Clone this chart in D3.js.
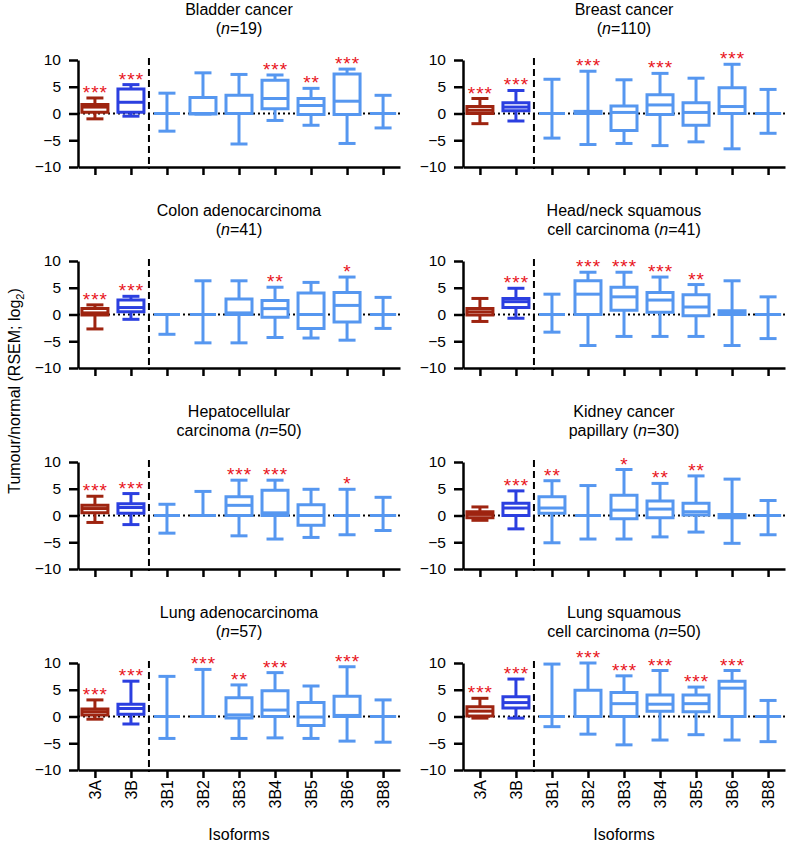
<!DOCTYPE html>
<meta charset="utf-8">
<style>
  body { margin: 0; background: #fff; }
  svg { font-family: "Liberation Sans", Arial, sans-serif; }
  .axis path, .axis line { stroke: #000; stroke-width: 2.5; }
  .axis text { font-size: 15.5px; fill: #000; }
</style>
<body>
<div id="chart"></div>
<script src="https://d3js.org/d3.v7.min.js"></script>
<script>

// categories on the x axis
var isoforms = ["3A", "3B", "3B1", "3B2", "3B3", "3B4", "3B5", "3B6", "3B8"];

// panel titles: first line, text before n, n value
var titleLine1 = ["Bladder cancer", "Breast cancer", "Colon adenocarcinoma", "Head/neck squamous",
                  "Hepatocellular", "Kidney cancer", "Lung adenocarcinoma", "Lung squamous"];
var titleLine2 = ["", "", "", "cell carcinoma ", "carcinoma ", "papillary ", "", "cell carcinoma "];
var sampleN = [19, 110, 41, 41, 50, 30, 57, 50];

// five-number summaries per isoform: [min, q1, median, q3, max]
var bladder = [
  [-1.0, 0.25, 1.2, 1.7, 2.9], [-0.5, 0.25, 2.1, 4.6, 5.4], [-3.3, 0, 0, 0, 3.8],
  [-0.1, -0.1, 0, 3.0, 7.6], [-5.7, 0, 0, 3.4, 7.3], [-1.3, 0.9, 2.8, 6.2, 7.2],
  [-2.2, -0.2, 1.5, 2.8, 4.7], [-5.6, -0.2, 2.3, 7.4, 8.3], [-2.7, 0, 0, 0, 3.4]];
var breast = [
  [-1.9, 0, 0.6, 1.3, 2.8], [-1.4, 0.5, 1.2, 2.0, 4.3], [-4.6, 0, 0, 0, 6.4],
  [-5.8, 0, 0.2, 0.4, 7.9], [-5.6, -3.2, 0.2, 1.4, 6.3], [-6.0, -0.2, 1.6, 3.5, 7.5],
  [-5.3, -2.2, 0.2, 2.0, 6.6], [-6.6, 0, 1.3, 4.8, 9.2], [-3.7, 0, 0, 0, 4.5]];
var colon = [
  [-2.7, -0.1, 0.3, 1.1, 1.8], [-0.9, 0.5, 1.3, 2.7, 3.4], [-3.7, 0, 0, 0, 0],
  [-5.3, 0, 0, 0, 6.3], [-5.3, 0, 0.3, 2.9, 6.3], [-4.3, -0.5, 1.1, 2.6, 5.1],
  [-4.4, -2.6, 0, 4.0, 6.0], [-4.8, -1.4, 1.7, 4.1, 7.0], [-2.6, 0, 0, 0, 3.2]];
var headNeck = [
  [-1.3, -0.1, 0.5, 1.1, 3.0], [-0.7, 1.3, 2.4, 3.0, 4.9], [-3.3, 0, 0, 0, 3.8],
  [-5.8, 0, 3.8, 6.3, 7.9], [-4.1, 0.8, 3.3, 5.1, 7.9], [-4.1, 0.4, 2.7, 4.1, 7.0],
  [-4.1, -0.25, 1.4, 3.7, 5.6], [-5.8, 0, 0.3, 0.7, 6.3], [-4.5, 0, 0, 0, 3.3]];
var hepato = [
  [-1.3, 0.5, 1.3, 1.9, 3.6], [-1.7, 0.4, 1.5, 2.2, 4.1], [-3.3, 0, 0, 0, 2.1],
  [0, 0, 0, 0, 4.5], [-3.8, 0, 1.9, 3.5, 6.6], [-4.4, 0, 0.5, 4.7, 6.6],
  [-4.1, -1.8, 0, 2.0, 4.9], [-3.6, 0, 0, 0, 4.9], [-2.8, 0, 0, 0, 3.4]];
var kidney = [
  [-0.9, -0.4, 0.2, 0.7, 1.6], [-2.5, 0, 1.4, 2.3, 4.6], [-5.1, 0.4, 1.4, 3.5, 6.5],
  [-4.4, 0, 0, 0, 5.6], [-4.4, -0.6, 1.0, 3.8, 8.6], [-4.0, -0.4, 1.2, 2.7, 6.0],
  [-3.1, 0.1, 0.7, 2.3, 7.4], [-5.2, -0.4, -0.1, 0.2, 6.8], [-3.6, 0, 0, 0, 2.8]];
var lungAdeno = [
  [-0.5, 0.3, 0.9, 1.4, 3.1], [-1.4, 0.4, 1.5, 2.3, 6.6], [-4.1, 0, 0, 0, 7.5],
  [0, 0, 0, 0, 8.8], [-4.1, -0.3, 0.3, 3.5, 5.9], [-4.0, 0, 1.2, 4.8, 8.2],
  [-4.1, -1.7, -0.1, 2.6, 5.7], [-4.6, 0, 0.2, 3.8, 9.3], [-4.8, 0, 0, 0, 3.1]];
var lungSquam = [
  [-0.3, 0.1, 1.0, 1.8, 3.4], [-0.3, 1.6, 2.6, 3.7, 7.0], [-1.9, 0, 0, 0, 9.8],
  [-3.3, 0, 0, 4.9, 10.0], [-5.3, 0, 2.4, 4.5, 7.6], [-4.4, 1.0, 2.3, 4.0, 8.6],
  [-3.4, 0.9, 2.4, 4.0, 5.5], [-4.4, 0, 5.3, 6.6, 8.6], [-4.7, 0, 0, 0, 3.0]];

// significance marks per isoform
var starsBladder   = ["***", "***", "", "", "", "***", "**", "***", ""];
var starsBreast    = ["***", "***", "", "***", "", "***", "", "***", ""];
var starsColon     = ["***", "***", "", "", "", "**", "", "*", ""];
var starsHeadNeck  = ["", "***", "", "***", "***", "***", "**", "", ""];
var starsHepato    = ["***", "***", "", "", "***", "***", "", "*", ""];
var starsKidney    = ["", "***", "**", "", "*", "**", "**", "", ""];
var starsLungAdeno = ["***", "***", "", "***", "**", "***", "", "***", ""];
var starsLungSquam = ["***", "***", "", "***", "***", "***", "***", "***", ""];

var yTicks = [-10, -5, 0, 5, 10];

var panelData = [bladder, breast, colon, headNeck, hepato, kidney, lungAdeno, lungSquam];
var panelStars = [starsBladder, starsBreast, starsColon, starsHeadNeck,
                  starsHepato, starsKidney, starsLungAdeno, starsLungSquam];

var width = 788, height = 845;
var colLeft = [78, 463],
    rowTop = 60, rowStep = 201,
    plotW = 322, plotH = 107;

var boxColor = function(i) {
  if (i === 0) return "#9e2410";
  if (i === 1) return "#2b3fe0";
  return "#5697f0";
};

var svg = d3.select("#chart").append("svg")
    .attr("width", width)
    .attr("height", height);

var x = d3.scalePoint()
    .domain(isoforms)
    .range([0, plotW])
    .padding(0.47);

var boxW = 26, capW = 17;

panelData.forEach(function(data, p) {
  var col = p % 2, row = Math.floor(p / 2);
  var top = rowTop + row * rowStep;
  var g = svg.append("g")
      .attr("transform", "translate(" + colLeft[col] + "," + top + ")");

  var y = d3.scaleLinear().domain([-10, 10]).range([plotH, 0]);

  // title
  var cx = plotW / 2;
  g.append("text")
      .attr("x", cx).attr("y", -45)
      .attr("text-anchor", "middle")
      .attr("font-size", 16)
      .text(titleLine1[p]);
  var t2 = g.append("text")
      .attr("x", cx).attr("y", -26)
      .attr("text-anchor", "middle")
      .attr("font-size", 16);
  t2.append("tspan").text(titleLine2[p] + "(");
  t2.append("tspan").attr("font-style", "italic").text("n");
  t2.append("tspan").text("=" + sampleN[p] + ")");

  // dotted zero line
  g.append("line")
      .attr("x1", 0).attr("x2", plotW)
      .attr("y1", y(0)).attr("y2", y(0))
      .attr("stroke", "#000")
      .attr("stroke-width", 2)
      .attr("stroke-dasharray", "2,3");

  // dashed separator between 3B and 3B1
  var sepX = (x("3B") + x("3B1")) / 2;
  g.append("line")
      .attr("x1", sepX).attr("x2", sepX)
      .attr("y1", y(10) - 2).attr("y2", y(-10) + 2)
      .attr("stroke", "#000")
      .attr("stroke-width", 2)
      .attr("stroke-dasharray", "7,4");

  // axes
  g.append("g")
      .attr("class", "axis")
      .call(d3.axisLeft(y).tickValues(yTicks).tickSize(9).tickSizeOuter(0).tickPadding(8));

  var xAxis = g.append("g")
      .attr("class", "axis")
      .attr("transform", "translate(0," + plotH + ")")
      .call(d3.axisBottom(x).tickSize(8).tickSizeOuter(0).tickPadding(2));
  xAxis.selectAll("text").remove();

  if (row === 3) {
    g.selectAll(".xlab")
      .data(isoforms)
      .enter().append("text")
        .attr("class", "xlab")
        .attr("transform", function(d) { return "translate(" + x(d) + "," + (plotH + 10) + ") rotate(-90)"; })
        .attr("text-anchor", "end")
        .attr("dy", "0.35em")
        .attr("font-size", 16)
        .text(function(d) { return d; });
    g.append("text")
        .attr("x", cx).attr("y", plotH + 70)
        .attr("text-anchor", "middle")
        .attr("font-size", 16)
        .text("Isoforms");
  }

  // box plots
  var boxes = g.selectAll(".box")
      .data(data)
      .enter().append("g")
        .attr("class", "box")
        .attr("transform", function(d, i) { return "translate(" + x(isoforms[i]) + ",0)"; });

  boxes.each(function(d, i) {
    var b = d3.select(this), c = boxColor(i);
    b.append("line")
        .attr("y1", y(d[0])).attr("y2", y(d[4]))
        .attr("stroke", c).attr("stroke-width", 3);
    [d[0], d[4]].forEach(function(v) {
      b.append("line")
          .attr("x1", -capW / 2).attr("x2", capW / 2)
          .attr("y1", y(v)).attr("y2", y(v))
          .attr("stroke", c).attr("stroke-width", 3);
    });
    b.append("path")
        .attr("d", "M" + (-boxW / 2) + "," + y(d[3]) + "H" + (boxW / 2) + "V" + y(d[1]) + "H" + (-boxW / 2) + "Z")
        .attr("fill", "#fff")
        .attr("stroke", c).attr("stroke-width", 3)
        .attr("stroke-linejoin", "miter");
    b.append("line")
        .attr("x1", -boxW / 2).attr("x2", boxW / 2)
        .attr("y1", y(d[2])).attr("y2", y(d[2]))
        .attr("stroke", c).attr("stroke-width", 3);
  });

  // significance stars
  g.selectAll(".star")
      .data(panelStars[p])
      .enter().append("text")
        .attr("class", "star")
        .attr("x", function(d, i) { return x(isoforms[i]) + 0.5; })
        .attr("y", function(d, i) { return y(data[i][4]) + 1; })
        .attr("text-anchor", "middle")
        .attr("font-size", 19)
        .attr("letter-spacing", 1)
        .attr("fill", "#e8141c")
        .text(function(d) { return d; });
});

// shared y-axis title
var yTitle = svg.append("text")
    .attr("transform", "translate(14,391) rotate(-90)")
    .attr("text-anchor", "middle")
    .attr("dy", "0.35em")
    .attr("font-size", 16);
yTitle.append("tspan").text("Tumour/normal (RSEM; log");
yTitle.append("tspan").attr("font-size", 11).attr("dy", 4).text("2");
yTitle.append("tspan").attr("dy", -4).text(")");

</script>
</body>
